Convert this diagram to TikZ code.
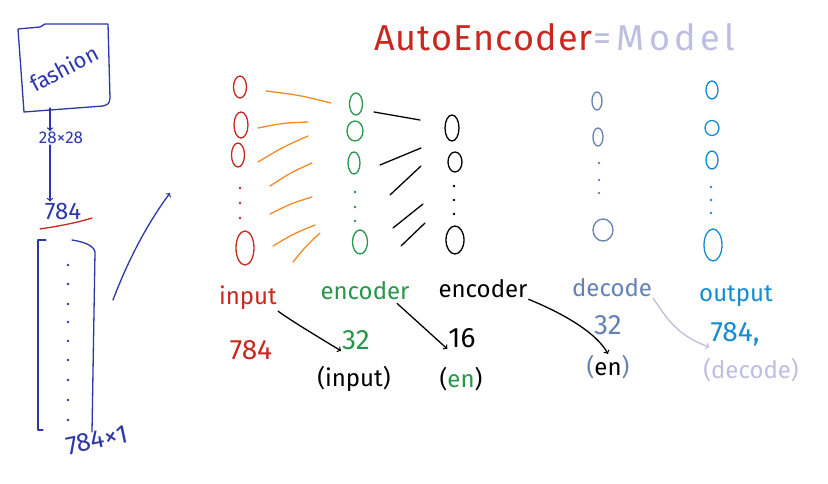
\documentclass[tikz,border=0pt]{standalone}
\usepackage{fontspec}
\setmainfont{Fira Sans}
\usepackage{tikz}
\usetikzlibrary{shapes,shapes.geometric}
\usetikzlibrary{calc}
\usetikzlibrary{arrows}
\definecolor{penred}{RGB}{200,40,32}
\definecolor{penorange}{RGB}{240,140,40}
\definecolor{pengreen}{RGB}{40,150,75}
\definecolor{penslate}{RGB}{100,130,180}
\definecolor{pensky}{RGB}{20,140,210}
\definecolor{penlilac}{RGB}{190,190,225}
\definecolor{pennavy}{RGB}{45,55,170}
\tikzset{
  pen/.style={line width=1.3pt,line cap=round,line join=round},
  neuron/.style={draw,ellipse,pen,inner sep=0pt},
  lbl/.style={font=\fontsize{24}{26}\selectfont,inner sep=1pt},
  num/.style={font=\fontsize{28}{30}\selectfont,inner sep=1pt},
  ttl/.style={font=\fontsize{36}{38}\selectfont,inner sep=0pt}
}
\begin{document}
\begin{tikzpicture}[x=1pt,y=-1pt]
			\useasboundingbox[fill=white] (0,0) rectangle (828,484);
			% left: image to vector
			\draw[pen,pennavy] (18,29) -- (40,27) -- (45,24) -- (108,24) -- (110,98) .. controls (109,104) .. (103,106) -- (24,112) -- cycle;
			\node[pennavy,rotate=28,font=\fontsize{22}{24}\selectfont,inner sep=0pt] (fashion) at (64,68) {fashion};
			\node[pennavy,font=\fontsize{17}{19}\selectfont,inner sep=1pt] (size) at (61,138) {28×28};
			\node[lbl,pennavy] (flat) at (63,211) {784};
			\draw[pen,pennavy,->] (50,108) -- (size.north -| 50,0);
			\draw[pen,pennavy,->] (size.south -| 50,0) -- (flat.north -| 50,0);
			\draw[pen,penred] (40,229) .. controls (60,226) and (80,222) .. (92,218);
			\draw[pen,pennavy] (46,240) -- (38,240) -- (38,430) -- (43,430);
			\draw[pen,pennavy] (72,240) .. controls (85,242) and (94,246) .. (95,252) -- (92,432);
			\foreach \y in {265,284,304,322,341,360,380,400,420}
				\fill[pennavy] (68,\y) circle (1.3pt);
			\node[pennavy,rotate=12,font=\fontsize{26}{28}\selectfont,inner sep=1pt] (vec) at (97,440) {784×1};
			\draw[pen,pennavy,->] (113,300) .. controls (130,255) and (150,220) .. (170,193);
			% title
			\node[ttl,penred,anchor=west] (title) at (374,37) {\addfontfeature{LetterSpace=3}AutoEncoder};
			\node[ttl,penlilac,anchor=west] (model) at (title.east) {\addfontfeature{LetterSpace=12}=\,Model};
			% input layer
			\node[neuron,penred,minimum width=13pt,minimum height=22pt] (i1) at (240,87) {};
			\node[neuron,penred,minimum width=14pt,minimum height=26pt] (i2) at (241,125) {};
			\node[neuron,penred,minimum width=13pt,minimum height=24pt] (i3) at (238,155) {};
			\node[neuron,penred,minimum width=18pt,minimum height=34pt] (i4) at (245,248) {};
			\foreach \y in {188,203,218} \fill[penred] (240,\y) circle (1.3pt);
			% first encoder layer
			\node[neuron,pengreen,minimum width=13pt,minimum height=22pt] (e1) at (356,104) {};
			\node[neuron,pengreen,minimum width=16pt,minimum height=20pt] (e2) at (355,131) {};
			\node[neuron,pengreen,minimum width=12pt,minimum height=22pt] (e3) at (354,163) {};
			\node[neuron,pengreen,minimum width=15pt,minimum height=24pt] (e4) at (360,242) {};
			\foreach \y in {192,207,221} \fill[pengreen] (355,\y) circle (1.3pt);
			% second encoder layer
			\node[neuron,black,minimum width=14pt,minimum height=26pt] (c1) at (452,128) {};
			\node[neuron,black,minimum width=14pt,minimum height=20pt] (c2) at (455,162) {};
			\node[neuron,black,minimum width=18pt,minimum height=28pt] (c3) at (455,240) {};
			\foreach \y in {186,200,214} \fill[black] (454,\y) circle (1.3pt);
			% decoder layer
			\node[neuron,penslate,minimum width=10pt,minimum height=18pt] (d1) at (597,101) {};
			\node[neuron,penslate,minimum width=10pt,minimum height=18pt] (d2) at (598,137) {};
			\node[neuron,penslate,minimum width=20pt,minimum height=22pt] (d3) at (603,230) {};
			\foreach \y in {163,180,193} \fill[penslate] (599,\y) circle (1.3pt);
			% output layer
			\node[neuron,pensky,minimum width=12pt,minimum height=18pt] (o1) at (712,90) {};
			\node[neuron,pensky,minimum width=14pt,minimum height=15pt] (o2) at (712,128) {};
			\node[neuron,pensky,minimum width=12pt,minimum height=18pt] (o3) at (712,160) {};
			\node[neuron,pensky,minimum width=18pt,minimum height=32pt] (o4) at (713,245) {};
			\foreach \y in {187,200,213} \fill[pensky] (711,\y) circle (1.3pt);
			% weight strokes
			\foreach \a/\b/\c/\d in {266/91/331/103, 258/128/308/122, 258/162/308/136, 270/186/312/163,
				270/214/312/197, 273/246/315/225, 293/262/320/233}
				\draw[pen,penorange] (\a,\b) .. controls ($(\a,\b)!0.5!(\c,\d)+(0,-2)$) .. (\c,\d);
			\foreach \a/\b/\c/\d in {374/112/420/120, 380/165/421/148, 390/195/421/166,
				393/228/423/204, 401/246/425/223}
				\draw[pen,black] (\a,\b) -- (\c,\d);
			% layer labels
			\node[lbl,penred] (lin) at (248,298) {input};
			\node[num,penred] (nin) at (251,350) {784};
			\node[lbl,pengreen] (lenc) at (365,291) {encoder};
			\node[lbl,black] (lcode) at (483,289) {encoder};
			\node[lbl,penslate] (ldec) at (612,288) {decode};
			\node[lbl,pensky] (lout) at (736,296) {output};
			\node[num,pengreen] (nenc) at (356,340) {32};
			\node[lbl,black] (fenc) at (354,379) {(input)};
			\node[num,black] (ncode) at (462,338) {16};
			\node[lbl,black] (fcode) at (461,379) {(\textcolor{pengreen}{en})};
			\node[num,penslate] (ndec) at (608,325) {32};
			\node[lbl,penslate] (fdec) at (608,367) {(\textcolor{black}{en})};
			\node[num,pensky] (nout) at (735,334) {784,};
			\node[lbl,penlilac] (fout) at (751,370) {(decode)};
			% where each layer takes its input from
			\draw[pen,black,->] (lin.south east) .. controls (290,320) and (315,335) .. (nenc.south west);
			\draw[pen,black,->] (lenc.south) ++(32,2) -- (ncode.south west);
			\draw[pen,black,->] (lcode.south east) .. controls (555,310) and (595,330) .. (fdec.north);
			\draw[pen,penlilac,->] (ldec.south east) .. controls (665,315) and (675,335) .. (nout.south west);
\end{tikzpicture}
\end{document}
